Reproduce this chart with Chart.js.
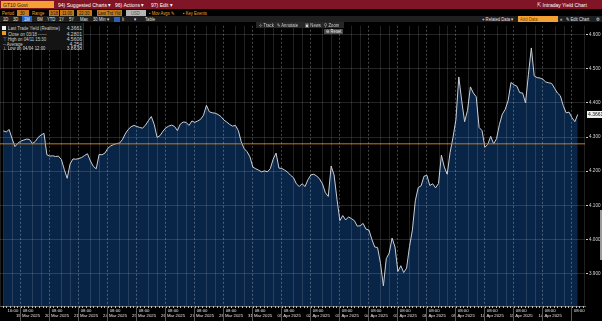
<!DOCTYPE html>
<html>
<head>
<meta charset="utf-8">
<script src="https://cdn.jsdelivr.net/npm/chart.js@4.4.1/dist/chart.umd.min.js"></script>
<style>
  html, body { margin: 0; padding: 0; background: #000; }
  body {
    width: 602px; height: 321px; position: relative; overflow: hidden;
    font-family: 'Liberation Sans', Arial, sans-serif;
    color: #ddd;
  }
  /* text is condensed a bit, the terminal font is narrow */
  .t { position: absolute; white-space: nowrap; line-height: 1; transform: scaleX(0.84); transform-origin: 0 0; }
  .r { position: absolute; }
  .bar { position: absolute; left: 0; width: 602px; }
  #chartWrap { position: absolute; left: 0; top: 22px; width: 602px; height: 299px; }
  #legend { position: absolute; left: 0; top: 23px; width: 83px; height: 27px; background: #141414; border-right: 1px solid #2c2c2c; font-size: 5px; color: #cfcfcf; }
  #legend .row { position: absolute; left: 2px; width: 80px; height: 5px; }
  #legend .v { position: absolute; right: 0; top: 0; white-space: nowrap; }
  #legend .n { position: absolute; left: 6px; top: 0; white-space: nowrap; transform: scaleX(0.86); transform-origin: 0 0; }
  .sw { position: absolute; left: 0; top: 0.5px; width: 4px; height: 4px; }
</style>
</head>
<body>

<!-- header bar -->
<div class="bar" style="top:0;height:9px;background:#7f1526;"></div>
<div class="r" style="left:1px;top:1px;width:53px;height:7px;background:#f2a132;"></div>
<div class="t" style="left:3px;top:1.5px;font-size:6px;color:#1a1a1a;">GT10 Govt</div>
<div class="t" style="left:58px;top:1.5px;font-size:6px;color:#fff;">94) Suggested Charts ▾</div>
<div class="t" style="left:115px;top:1.5px;font-size:6px;color:#fff;">96) Actions ▾</div>
<div class="t" style="left:151px;top:1.5px;font-size:6px;color:#fff;">97) Edit ▾</div>
<div class="t" style="left:537px;top:1.5px;font-size:6px;color:#fff;">⇱ Intraday Yield Chart</div>

<!-- period row -->
<div class="t" style="left:2px;top:10.5px;font-size:5px;color:#f2a132;">Period</div>
<div class="r" style="left:17px;top:10px;width:12px;height:6px;background:#c27a1c;"></div>
<div class="t" style="left:20px;top:10.5px;font-size:5px;color:#111;">30</div>
<div class="t" style="left:32px;top:10.5px;font-size:5px;color:#f2a132;">Range</div>
<div class="r" style="left:49px;top:10px;width:10px;height:6px;background:#c27a1c;"></div>
<div class="t" style="left:50px;top:10.5px;font-size:5px;color:#111;">3/18</div>
<div class="r" style="left:60px;top:10px;width:14px;height:6px;background:#c27a1c;"></div>
<div class="t" style="left:62px;top:10.5px;font-size:5px;color:#111;">11:00</div>
<div class="r" style="left:77px;top:10px;width:15px;height:6px;background:#c27a1c;"></div>
<div class="t" style="left:79px;top:10.5px;font-size:5px;color:#111;">22:30</div>
<div class="r" style="left:97px;top:10px;width:25px;height:6px;background:#c27a1c;"></div>
<div class="t" style="left:98px;top:10.5px;font-size:5px;color:#111;">Last Trd Yld ▾</div>
<div class="r" style="left:126px;top:10px;width:20px;height:6px;background:#b5b5b5;"></div>
<div class="t" style="left:131px;top:10.5px;font-size:5px;color:#555;">USD</div>
<div class="t" style="left:149px;top:10.5px;font-size:5px;color:#f2a132;">▪ Mov Avgs ✎</div>
<div class="t" style="left:183px;top:10.5px;font-size:5px;color:#f2a132;">▪ Key Events</div>

<!-- range buttons row -->
<div class="bar" style="top:16px;height:6px;background:#1f1f1f;"></div>
<div class="r" style="left:22px;top:16px;width:10px;height:6px;background:#2b5fb8;"></div>
<div class="t" style="left:3px;top:16.7px;font-size:5px;color:#e6e6e6;">1D</div>
<div class="t" style="left:13px;top:16.7px;font-size:5px;color:#e6e6e6;">3D</div>
<div class="t" style="left:24px;top:16.7px;font-size:5px;color:#fff;">1M</div>
<div class="t" style="left:37px;top:16.7px;font-size:5px;color:#e6e6e6;">6M</div>
<div class="t" style="left:47px;top:16.7px;font-size:5px;color:#e6e6e6;">YTD</div>
<div class="t" style="left:59px;top:16.7px;font-size:5px;color:#e6e6e6;">1Y</div>
<div class="t" style="left:69px;top:16.7px;font-size:5px;color:#e6e6e6;">5Y</div>
<div class="t" style="left:80px;top:16.7px;font-size:5px;color:#e6e6e6;">Max</div>
<div class="t" style="left:93px;top:16.7px;font-size:5px;color:#e6e6e6;">30 Min ▾</div>
<div class="r" style="left:114px;top:16.5px;width:6px;height:5px;background:#2b5fb8;"></div>
<div class="t" style="left:122px;top:16.7px;font-size:5px;color:#e6e6e6;">lı</div>
<div class="t" style="left:134px;top:16.7px;font-size:5px;color:#e6e6e6;">▾</div>
<div class="t" style="left:145px;top:16.7px;font-size:5px;color:#e6e6e6;">Table</div>
<div class="t" style="left:482px;top:16.7px;font-size:5px;color:#e6e6e6;">+ Related Data ▾</div>
<div class="r" style="left:518px;top:16.3px;width:40px;height:5.5px;background:#f2a132;"></div>
<div class="t" style="left:520px;top:16.7px;font-size:5px;color:#7a4a00;">Add Data</div>
<div class="t" style="left:560px;top:16.7px;font-size:5px;color:#e6e6e6;">«</div>
<div class="t" style="left:566px;top:16.7px;font-size:5px;color:#e6e6e6;">✎ Edit Chart</div>
<div class="t" style="left:596px;top:16.5px;font-size:5px;color:#e6e6e6;">⚙</div>

<div id="chartWrap"><canvas id="yieldChart" width="602" height="299"></canvas></div>

<!-- legend box -->
<div id="legend">
  <div class="row" style="top:2px;"><span class="sw" style="background:#f2f2f2;"></span><span class="n">Last Trade Yield (Realtime)</span><span class="v">4.3661</span></div>
  <div class="row" style="top:7.5px;"><span class="sw" style="background:#f29a1c;"></span><span class="n">Close on 03/18 ------</span><span class="v">4.2801</span></div>
  <div class="row" style="top:12.5px;"><span class="n" style="left:1px;">⊤ High on 04/11 15:30</span><span class="v">4.5606</span></div>
  <div class="row" style="top:17.5px;"><span class="n" style="left:1px;">-- Average</span><span class="v">4.254</span></div>
  <div class="row" style="top:22px;"><span class="n" style="left:1px;">⊥ Low on 04/04 12:00</span><span class="v">3.8638</span></div>
</div>

<!-- floating chart tools -->
<div class="r" style="left:256px;top:22px;width:88px;height:6px;background:#262626;"></div>
<div class="t" style="left:259px;top:22.8px;font-size:5px;color:#cfcfcf;">⊹ Track</div>
<div class="t" style="left:277px;top:22.8px;font-size:5px;color:#cfcfcf;">✎ Annotate</div>
<div class="t" style="left:305px;top:22.8px;font-size:5px;color:#cfcfcf;">▣ News</div>
<div class="t" style="left:324px;top:22.8px;font-size:5px;color:#cfcfcf;">⚲ Zoom</div>
<div class="r" style="left:324px;top:28.5px;width:19px;height:5px;background:#4a4a4a;"></div>
<div class="t" style="left:326px;top:28.8px;font-size:5px;color:#eee;">⊖ Reset</div>
<div class="r" style="left:600px;top:210px;width:2px;height:50px;background:#9a9a9a;"></div>

<script>
// Generic 10Y yield, 30 min bars, 18 Mar - 15 Apr 2025
// time axis is in trading days: 1 = 19 Mar 08:00, 2 = 20 Mar 08:00, ...
const dayLabels = ['19 Mar 2025', '20 Mar 2025', '21 Mar 2025', '24 Mar 2025', '25 Mar 2025',
  '26 Mar 2025', '27 Mar 2025', '28 Mar 2025', '31 Mar 2025', '01 Apr 2025', '02 Apr 2025',
  '03 Apr 2025', '04 Apr 2025', '07 Apr 2025', '08 Apr 2025', '09 Apr 2025', '10 Apr 2025',
  '11 Apr 2025', '14 Apr 2025'];
const firstTime = 0.15;
const timeStep = 0.1;
const yields = [
  4.318, 4.315, 4.322, 4.295, 4.272, 4.282, 4.288, 4.291, 4.294, 4.293,
  4.281, 4.287, 4.299, 4.306, 4.311, 4.248, 4.244, 4.245, 4.243, 4.244,
  4.234, 4.205, 4.179, 4.221, 4.236, 4.235, 4.237, 4.240, 4.246, 4.251,
  4.230, 4.214, 4.207, 4.249, 4.248, 4.253, 4.267, 4.274, 4.278, 4.281,
  4.282, 4.292, 4.309, 4.322, 4.330, 4.334, 4.331, 4.328, 4.326, 4.335,
  4.348, 4.360, 4.337, 4.299, 4.304, 4.317, 4.327, 4.332, 4.335, 4.331,
  4.319, 4.338, 4.344, 4.343, 4.334, 4.347, 4.343, 4.347, 4.352, 4.364,
  4.393, 4.374, 4.371, 4.370, 4.366, 4.360, 4.350, 4.344, 4.337, 4.332,
  4.334, 4.319, 4.286, 4.266, 4.257, 4.242, 4.212, 4.207, 4.203, 4.198,
  4.201, 4.198, 4.207, 4.235, 4.253, 4.209, 4.208, 4.203, 4.197, 4.188,
  4.181, 4.163, 4.155, 4.163, 4.155, 4.175, 4.189, 4.191, 4.186, 4.177,
  4.163, 4.137, 4.126, 4.215, 4.189, 4.118, 4.055, 4.070, 4.057, 4.066,
  4.061, 4.055, 4.039, 4.040, 4.047, 4.030, 4.028, 4.001, 3.978, 3.976,
  3.930, 3.864, 3.944, 3.960, 4.004, 3.978, 3.906, 3.923, 3.903, 3.916,
  3.979, 4.028, 4.113, 4.152, 4.157, 4.185, 4.188, 4.158, 4.163, 4.151,
  4.164, 4.247, 4.212, 4.191, 4.255, 4.299, 4.351, 4.476, 4.406, 4.345,
  4.378, 4.447, 4.429, 4.418, 4.328, 4.319, 4.270, 4.279, 4.302, 4.280,
  4.295, 4.337, 4.367, 4.381, 4.407, 4.460, 4.453, 4.449, 4.430, 4.429,
  4.400, 4.484, 4.561, 4.479, 4.474, 4.473, 4.469, 4.461, 4.459, 4.457,
  4.443, 4.429, 4.421, 4.392, 4.371, 4.373, 4.357, 4.345, 4.3661
];
const closeYield = 4.2801;
const yTicks = [3.9, 4.0, 4.1, 4.2, 4.3, 4.4, 4.5, 4.6];
const xTicks = [0.48, 1, 2, 3, 4, 5, 6, 7, 8, 9, 10, 11, 12, 13, 14, 15, 16, 17, 18, 19, 20];

const xMin = 0.034, xMax = 20.2;
const yMin = 3.805, yMax = 4.626;
const axisFont = "'Liberation Sans', Arial, sans-serif";

const points = yields.map((y, i) => ({ x: +(firstTime + i * timeStep).toFixed(3), y: y }));

// day separators (dashed), intraday grid (solid), minor ticks and last value tag
const bbgGrid = {
  id: 'bbgGrid',
  afterDatasetsDraw(chart) {
    const { ctx, chartArea: a, scales: { x } } = chart;
    ctx.save();
    ctx.lineWidth = 1;
    ctx.strokeStyle = 'rgba(255,255,255,0.13)';
    for (let d = 0; d <= 20; d++) {
      [d + 0.15, d + 0.46].forEach(v => {
        if (v < xMin || v > xMax) return;
        const px = Math.round(x.getPixelForValue(v)) + 0.5;
        ctx.beginPath(); ctx.moveTo(px, a.top); ctx.lineTo(px, a.bottom); ctx.stroke();
      });
    }
    ctx.strokeStyle = 'rgba(255,255,255,0.28)';
    ctx.setLineDash([2, 2]);
    for (let d = 1; d <= 20; d++) {
      const px = Math.round(x.getPixelForValue(d - 0.28)) + 0.5;
      ctx.beginPath(); ctx.moveTo(px, a.top); ctx.lineTo(px, a.bottom); ctx.stroke();
    }
    ctx.restore();
  },
  afterDraw(chart) {
    const { ctx, chartArea: a, scales: { x, y } } = chart;
    ctx.save();
    ctx.strokeStyle = '#5a5a5a';
    ctx.lineWidth = 1;
    for (let d = 1; d <= 20; d++) {
      const px = Math.round(x.getPixelForValue(d - 0.28)) + 0.5;
      ctx.beginPath(); ctx.moveTo(px, a.bottom); ctx.lineTo(px, chart.height); ctx.stroke();
    }
    ctx.strokeStyle = '#bdbdbd';
    for (let v = 0.125; v < xMax; v += 0.125) {
      const px = Math.round(x.getPixelForValue(v)) + 0.5;
      ctx.beginPath(); ctx.moveTo(px, a.bottom); ctx.lineTo(px, a.bottom + 2); ctx.stroke();
    }
    // last value tag on the axis
    const last = yields[yields.length - 1];
    const py = y.getPixelForValue(last);
    ctx.fillStyle = '#f0f0f0';
    ctx.fillRect(a.right + 2, py - 3.5, 15, 7);
    ctx.fillStyle = '#111';
    ctx.font = '5px ' + axisFont;
    ctx.textBaseline = 'middle';
    ctx.fillText(last.toFixed(4), a.right + 3, py + 0.3);
    ctx.restore();
  }
};

const ctx = document.getElementById('yieldChart').getContext('2d');
new Chart(ctx, {
  type: 'line',
  data: {
    datasets: [
      {
        label: 'Close on 03/18',
        data: [{ x: xMin, y: closeYield }, { x: xMax, y: closeYield }],
        borderColor: '#c47a1e',
        borderWidth: 1,
        pointRadius: 0,
        fill: false,
      },
      {
        label: 'Last Trade Yield',
        data: points,
        borderColor: '#c9cdd4',
        backgroundColor: '#082447',
        borderWidth: 1,
        pointRadius: 0,
        tension: 0,
        fill: 'start',
      },
    ],
  },
  options: {
    responsive: false,
    animation: false,
    devicePixelRatio: 1,
    layout: { padding: 0 },
    plugins: {
      legend: { display: false },
      tooltip: { enabled: false },
    },
    scales: {
      x: {
        type: 'linear',
        min: xMin,
        max: xMax,
        border: { display: true, color: '#6a6a6a' },
        grid: { display: false, drawTicks: false },
        afterBuildTicks: s => { s.ticks = xTicks.map(v => ({ value: v })); },
        afterFit: s => { s.height = 15; },
        ticks: {
          autoSkip: false,
          maxRotation: 0,
          padding: 2,
          color: '#e2e2e2',
          font: { family: axisFont, size: 4.3, lineHeight: 1.2 },
          callback: v => {
            if (v < 1) return '16:00';
            const lbl = dayLabels[Math.round(v) - 1];
            return lbl ? ['08:00', lbl] : '08:00';
          },
        },
      },
      y: {
        position: 'right',
        min: yMin,
        max: yMax,
        border: { display: true, color: '#3a3a3a' },
        grid: {
          color: 'rgba(255,255,255,0.14)',
          z: 1,
          drawTicks: true,
          tickLength: 3,
          tickColor: '#d0d0d0',
        },
        afterBuildTicks: s => { s.ticks = yTicks.map(v => ({ value: v })); },
        afterFit: s => { s.width = 17; },
        ticks: {
          padding: 1,
          color: '#d6d6d6',
          font: { family: axisFont, size: 4.6 },
          callback: v => v.toFixed(3),
        },
      },
    },
  },
  plugins: [bbgGrid],
});
</script>
</body>
</html>
